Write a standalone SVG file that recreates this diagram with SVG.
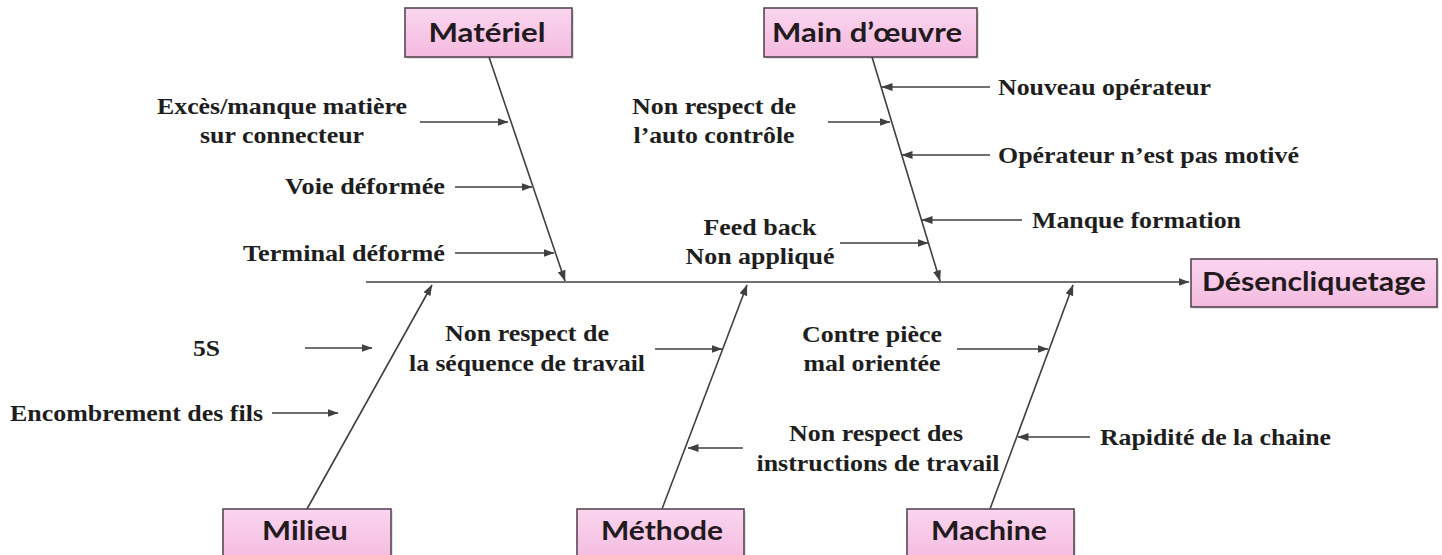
<svg xmlns="http://www.w3.org/2000/svg" width="1442" height="555" viewBox="0 0 1442 555">
  <defs>
    <style>
      .bone{stroke:#404040;stroke-width:1.6;fill:none;marker-end:url(#ah)}
      .cause{stroke:#404040;stroke-width:1.5;fill:none;marker-end:url(#ah)}
      .lbl{font-family:"Liberation Serif","Times New Roman",serif;font-weight:bold;font-size:23.5px;fill:#1e1e1e;}
      .mid{text-anchor:middle}
      .box{fill:url(#pink);stroke:#574752;stroke-width:1.6}
      .shadow{fill:#000;opacity:0.12}
      .cat{font-family:Lato,"Open Sans","Liberation Sans",sans-serif;font-weight:bold;font-size:27px;fill:#231a20;text-anchor:middle}
    </style>
    <linearGradient id="pink" x1="0" y1="0" x2="0" y2="1">
      <stop offset="0" stop-color="#fad6ef"/>
      <stop offset="1" stop-color="#f4badf"/>
    </linearGradient>
    <marker id="ah" viewBox="0 0 11 8" refX="10.5" refY="4" markerWidth="11" markerHeight="8" markerUnits="userSpaceOnUse" orient="auto">
      <path d="M0,0 L11,4 L0,8 z" fill="#404040"/>
    </marker>
  </defs>

  <rect width="1442" height="555" fill="#ffffff"/>

  <!-- spine, category bones and cause arrows -->
  <g id="connectors">
    <path class="bone" d="M366,282 H1189"/>
    <path class="bone" d="M489,57 L565,281"/>
    <path class="bone" d="M872,57 L940,281"/>
    <path class="bone" d="M307,509 L432,285"/>
    <path class="bone" d="M662,509 L747,285"/>
    <path class="bone" d="M990,509 L1073,285"/>

    <path class="cause" d="M420,122 H508"/>
    <path class="cause" d="M455,187 H532"/>
    <path class="cause" d="M455,253 H554"/>

    <path class="cause" d="M990,87 H882"/>
    <path class="cause" d="M828,122 H890"/>
    <path class="cause" d="M990,155 H902"/>
    <path class="cause" d="M1022,220 H922"/>
    <path class="cause" d="M840,243 H928"/>

    <path class="cause" d="M305,348 H372"/>
    <path class="cause" d="M272,413 H338"/>
    <path class="cause" d="M655,349 H722"/>
    <path class="cause" d="M743,448 H688"/>
    <path class="cause" d="M957,349 H1048"/>
    <path class="cause" d="M1090,437 H1018"/>
  </g>

  <!-- category boxes -->
  <g id="materiel">
    <rect class="shadow" x="407" y="10" width="167" height="49"/>
    <rect class="box" x="405" y="8" width="167" height="49"/>
    <text class="cat" x="487" y="42" textLength="117" lengthAdjust="spacingAndGlyphs">Matériel</text>
  </g>
  <g id="main-oeuvre">
    <rect class="shadow" x="766" y="10" width="213" height="49"/>
    <rect class="box" x="764" y="8" width="213" height="49"/>
    <text class="cat" x="867" y="42" textLength="190" lengthAdjust="spacingAndGlyphs">Main d’œuvre</text>
  </g>
  <g id="desencliquetage">
    <rect class="shadow" x="1193" y="261" width="246" height="48"/>
    <rect class="box" x="1191" y="259" width="246" height="48"/>
    <text class="cat" x="1314" y="291" textLength="224" lengthAdjust="spacingAndGlyphs">Désencliquetage</text>
  </g>
  <g id="milieu">
    <rect class="shadow" x="225" y="511" width="168" height="52"/>
    <rect class="box" x="223" y="509" width="168" height="52"/>
    <text class="cat" x="305" y="540" textLength="86" lengthAdjust="spacingAndGlyphs">Milieu</text>
  </g>
  <g id="methode">
    <rect class="shadow" x="579" y="511" width="167" height="52"/>
    <rect class="box" x="577" y="509" width="167" height="52"/>
    <text class="cat" x="662" y="540" textLength="122" lengthAdjust="spacingAndGlyphs">Méthode</text>
  </g>
  <g id="machine">
    <rect class="shadow" x="909" y="511" width="167" height="52"/>
    <rect class="box" x="907" y="509" width="167" height="52"/>
    <text class="cat" x="989" y="540" textLength="116" lengthAdjust="spacingAndGlyphs">Machine</text>
  </g>

  <!-- cause labels -->
  <g id="causes-materiel" class="lbl">
    <text class="mid" x="282" y="114" textLength="250" lengthAdjust="spacingAndGlyphs">Excès/manque matière</text>
    <text class="mid" x="282" y="143" textLength="164" lengthAdjust="spacingAndGlyphs">sur connecteur</text>
    <text x="285" y="194" textLength="160" lengthAdjust="spacingAndGlyphs">Voie déformée</text>
    <text x="243" y="261" textLength="202" lengthAdjust="spacingAndGlyphs">Terminal déformé</text>
  </g>
  <g id="causes-main-oeuvre" class="lbl">
    <text class="mid" x="714" y="114" textLength="164" lengthAdjust="spacingAndGlyphs">Non respect de</text>
    <text class="mid" x="714" y="143" textLength="161" lengthAdjust="spacingAndGlyphs">l’auto contrôle</text>
    <text x="998" y="95" textLength="213" lengthAdjust="spacingAndGlyphs">Nouveau opérateur</text>
    <text x="998" y="163" textLength="301" lengthAdjust="spacingAndGlyphs">Opérateur n’est pas motivé</text>
    <text x="1032" y="228" textLength="209" lengthAdjust="spacingAndGlyphs">Manque formation</text>
    <text class="mid" x="760" y="235" textLength="113" lengthAdjust="spacingAndGlyphs">Feed back</text>
    <text class="mid" x="760" y="264" textLength="149" lengthAdjust="spacingAndGlyphs">Non appliqué</text>
  </g>
  <g id="causes-milieu" class="lbl">
    <text x="193" y="356" textLength="27" lengthAdjust="spacingAndGlyphs">5S</text>
    <text x="10" y="421" textLength="253" lengthAdjust="spacingAndGlyphs">Encombrement des fils</text>
  </g>
  <g id="causes-methode" class="lbl">
    <text class="mid" x="527" y="341" textLength="164" lengthAdjust="spacingAndGlyphs">Non respect de</text>
    <text class="mid" x="527" y="371" textLength="236" lengthAdjust="spacingAndGlyphs">la séquence de travail</text>
    <text class="mid" x="876" y="441" textLength="174" lengthAdjust="spacingAndGlyphs">Non respect des</text>
    <text class="mid" x="878" y="471" textLength="243" lengthAdjust="spacingAndGlyphs">instructions de travail</text>
  </g>
  <g id="causes-machine" class="lbl">
    <text class="mid" x="872" y="342" textLength="140" lengthAdjust="spacingAndGlyphs">Contre pièce</text>
    <text class="mid" x="872" y="371" textLength="137" lengthAdjust="spacingAndGlyphs">mal orientée</text>
    <text x="1100" y="445" textLength="231" lengthAdjust="spacingAndGlyphs">Rapidité de la chaine</text>
  </g>
</svg>
